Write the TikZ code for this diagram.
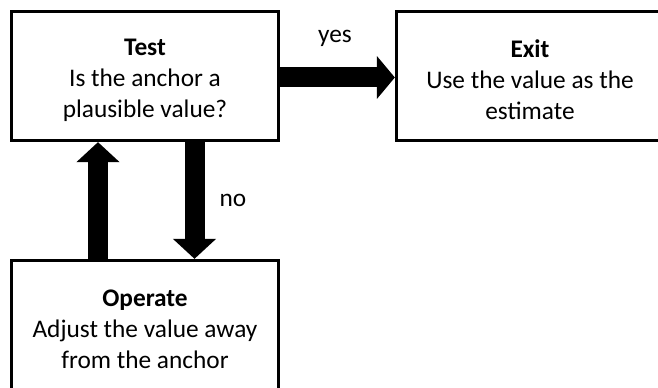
\documentclass[tikz,border=0pt]{standalone}
\usepackage{fontspec}
\setmainfont{Carlito}
\usetikzlibrary{arrows.meta}
\newcommand{\topstrut}{\rule{0pt}{19pt}}
\tikzset{
  box/.style={draw=black, line width=2.2pt, fill=white, rectangle,
    minimum width=200.5pt, minimum height=97pt, align=center,
    font=\fontsize{19}{23.5}\selectfont, inner sep=0pt},
  fat/.style={line width=15pt, draw=black,
    -{Triangle[length=15pt, width=31.5pt]}},
  lbl/.style={font=\fontsize{19}{23.5}\selectfont, inner sep=0pt}
}
\begin{document}
\begin{tikzpicture}[x=0.75pt, y=-0.75pt]
\useasboundingbox (0,0) rectangle (658,388);
\clip (0,0) rectangle (658,388);
\node[box] (test) at (145,76) {\topstrut\textbf{Test}\\Is the anchor a\\plausible value?};
\node[box] (exit) at (530,76) {\topstrut\textbf{Exit}\\Use the value as the\\estimate};
\node[box] (op) at (145,325) {\topstrut\textbf{Operate}\\Adjust the value away\\from the anchor};
\draw[fat, -{Triangle[length=13.5pt, width=31.5pt]}] (test.east |- 0,77.5) -- (exit.west |- 0,77.5);
\draw[fat] (op.north -| 98,0) -- (test.south -| 98,0);
\draw[fat] (test.south -| 194.5,0) -- (op.north -| 194.5,0);
\node[lbl] (yes) at (335,38) {yes};
\node[lbl] (no) at (233,200) {no};
\end{tikzpicture}
\end{document}
